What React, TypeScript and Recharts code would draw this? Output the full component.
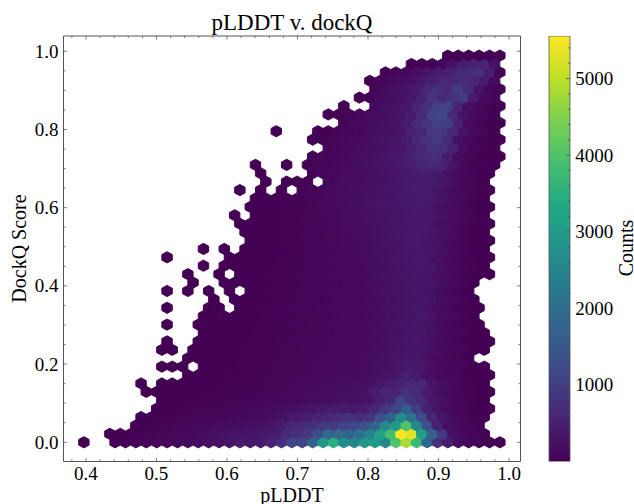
import React from 'react';
import {
  ScatterChart,
  Scatter,
  BarChart,
  Bar,
  XAxis,
  YAxis,
} from 'recharts';

// each row of the hexbin: first column index, then the counts from there on (0 = no hexagon)
const row00 = [0, 2, 0, 0, 30, 40, 60, 70, 90, 110, 130, 170, 190, 220, 260, 300, 420, 360, 380, 520, 750, 1150, 1150, 1700, 2900, 3500, 2700, 2500, 2900, 3000, 2550, 4000, 4850, 3750, 1800, 800, 450, 200, 90, 50, 20, 5];
const row01 = [2, 10, 20, 30, 40, 55, 75, 90, 110, 130, 170, 220, 260, 280, 300, 320, 380, 450, 650, 800, 900, 1300, 1850, 1900, 1800, 2050, 2500, 3200, 3900, 5555, 5300, 3100, 1700, 900, 250, 110, 60, 20];
const row02 = [5, 20, 30, 40, 50, 70, 80, 100, 130, 160, 170, 200, 220, 250, 320, 420, 580, 680, 760, 900, 950, 1100, 1200, 1350, 1800, 2600, 3000, 4000, 2600, 1450, 500, 250, 120, 50, 15];
const row03 = [5, 8, 15, 25, 35, 45, 50, 60, 80, 90, 110, 130, 150, 180, 230, 300, 380, 480, 560, 600, 720, 800, 760, 850, 1300, 1750, 2700, 2100, 1300, 600, 320, 170, 90, 40, 10];
const row04 = [7, 15, 20, 30, 35, 45, 50, 60, 70, 85, 100, 130, 150, 190, 240, 270, 300, 380, 400, 420, 380, 450, 620, 850, 1100, 1650, 1000, 500, 280, 160, 80, 40, 15, 5];
const row05 = [7, 8, 12, 18, 25, 30, 35, 40, 50, 55, 65, 80, 100, 120, 150, 170, 190, 210, 230, 250, 270, 300, 480, 620, 1100, 800, 650, 350, 230, 130, 70, 30, 8];
const row06 = [6, 5, 6, 10, 15, 18, 22, 28, 32, 38, 42, 50, 60, 75, 90, 110, 130, 150, 170, 190, 210, 230, 260, 430, 550, 560, 800, 650, 400, 220, 120, 60, 30, 10, 3];
const row07 = [5, 2, 0, 6, 8, 12, 15, 18, 22, 26, 30, 35, 40, 48, 60, 75, 90, 110, 125, 140, 160, 180, 200, 240, 340, 430, 540, 650, 600, 320, 190, 110, 55, 25, 8];
const row08 = [10, 10, 14, 18, 22, 26, 30, 35, 42, 52, 65, 80, 95, 110, 125, 140, 150, 150, 175, 220, 280, 360, 480, 400, 240, 150, 100, 50, 22, 8, 2];
const row09 = [7, 1, 2, 3, 0, 10, 14, 18, 22, 26, 30, 38, 46, 58, 72, 85, 100, 115, 130, 150, 140, 165, 205, 260, 340, 410, 360, 230, 140, 95, 45, 20, 6];
const row10 = [10, 8, 12, 15, 18, 22, 26, 30, 35, 42, 52, 65, 78, 90, 105, 120, 125, 130, 155, 190, 235, 300, 370, 340, 235, 135, 90, 45, 15];
const row11 = [7, 1, 2, 0, 6, 9, 12, 16, 20, 24, 28, 32, 40, 50, 60, 72, 85, 100, 115, 125, 125, 150, 180, 220, 275, 340, 330, 245, 135, 90, 45, 18, 5];
const row12 = [8, 1, 0, 0, 7, 10, 14, 18, 22, 26, 30, 36, 46, 56, 68, 80, 95, 110, 120, 120, 145, 175, 210, 260, 315, 330, 250, 140, 95, 48, 20, 8, 2];
const row13 = [11, 6, 9, 12, 16, 20, 24, 28, 34, 42, 52, 64, 76, 90, 105, 115, 115, 140, 170, 205, 250, 305, 335, 260, 150, 100, 50, 22, 6];
const row14 = [8, 1, 0, 0, 5, 8, 11, 15, 18, 22, 27, 32, 40, 50, 60, 72, 86, 100, 115, 115, 135, 170, 205, 250, 315, 345, 275, 155, 110, 55, 24, 7];
const row15 = [11, 4, 7, 10, 14, 17, 21, 25, 30, 38, 48, 58, 70, 84, 100, 115, 115, 135, 170, 205, 240, 300, 360, 290, 165, 115, 55, 20];
const row16 = [8, 1, 0, 0, 0, 6, 9, 0, 16, 20, 24, 29, 36, 46, 56, 68, 82, 98, 115, 115, 140, 170, 205, 250, 290, 345, 305, 170, 120, 60, 25, 6];
const row17 = [12, 2, 0, 10, 15, 19, 23, 28, 35, 44, 54, 66, 80, 98, 115, 115, 140, 175, 210, 250, 280, 330, 300, 180, 125, 62, 15];
const row18 = [8, 2, 0, 1, 0, 3, 0, 6, 0, 18, 22, 27, 34, 42, 52, 64, 78, 96, 115, 115, 145, 180, 215, 250, 290, 330, 305, 185, 130, 64, 12];
const row19 = [10, 1, 0, 0, 3, 8, 14, 17, 21, 26, 33, 41, 50, 62, 78, 96, 118, 120, 150, 185, 220, 260, 310, 335, 310, 195, 135, 66, 18];
const row20 = [10, 2, 0, 0, 2, 0, 12, 16, 20, 25, 32, 40, 50, 62, 78, 98, 120, 125, 150, 185, 220, 265, 320, 345, 320, 200, 140, 70, 30, 10, 2];
const row21 = [11, 1, 0, 2, 5, 10, 15, 19, 24, 30, 38, 48, 60, 78, 100, 125, 130, 155, 190, 230, 275, 330, 350, 330, 210, 145, 72, 30, 8];
const row22 = [8, 1, 0, 0, 0, 0, 0, 4, 9, 14, 18, 23, 29, 36, 46, 60, 80, 105, 130, 130, 165, 195, 235, 280, 335, 360, 335, 220, 150, 75, 32, 12, 2];
const row23 = [11, 2, 0, 1, 0, 8, 13, 17, 22, 28, 36, 46, 60, 82, 110, 135, 140, 170, 200, 250, 295, 345, 365, 345, 225, 155, 80, 34, 8];
const row24 = [16, 12, 16, 21, 27, 35, 46, 62, 85, 115, 145, 150, 180, 210, 250, 305, 345, 375, 335, 225, 160, 85, 36, 14, 3];
const row25 = [15, 4, 10, 15, 20, 26, 34, 46, 64, 90, 120, 150, 155, 185, 225, 265, 310, 350, 365, 335, 235, 165, 85, 36, 9];
const row26 = [15, 3, 9, 14, 19, 25, 34, 48, 68, 95, 125, 160, 165, 200, 240, 275, 310, 345, 365, 350, 240, 170, 90, 38, 15, 3];
const row27 = [14, 2, 0, 7, 13, 18, 24, 34, 50, 72, 100, 130, 165, 170, 210, 255, 290, 320, 345, 380, 365, 250, 175, 90, 40, 10];
const row28 = [16, 5, 11, 17, 24, 34, 52, 75, 105, 140, 175, 180, 220, 265, 295, 330, 360, 390, 375, 255, 180, 95, 42, 16, 3];
const row29 = [16, 3, 9, 15, 22, 34, 54, 80, 110, 150, 180, 185, 220, 255, 295, 335, 375, 400, 380, 270, 190, 95, 42, 12];
const row30 = [15, 1, 0, 5, 0, 18, 0, 52, 80, 110, 150, 175, 180, 210, 250, 290, 335, 380, 415, 400, 295, 200, 100, 46, 18, 4];
const row31 = [17, 3, 0, 10, 14, 40, 0, 105, 140, 165, 170, 205, 240, 280, 330, 375, 415, 415, 310, 220, 105, 48, 12];
const row32 = [17, 2, 0, 0, 0, 0, 65, 95, 130, 155, 160, 190, 230, 270, 320, 370, 420, 460, 410, 260, 120, 55, 22, 5];
const row33 = [16, 1, 0, 0, 1, 0, 14, 45, 85, 115, 150, 185, 225, 270, 320, 380, 450, 550, 620, 540, 300, 140, 60, 25, 5];
const row34 = [22, 30, 70, 100, 135, 170, 205, 250, 300, 360, 450, 580, 660, 720, 440, 180, 75, 30, 12, 3];
const row35 = [23, 55, 85, 120, 155, 190, 230, 280, 340, 460, 600, 800, 780, 500, 210, 85, 35, 8];
const row36 = [22, 8, 40, 75, 105, 140, 175, 215, 265, 320, 420, 600, 780, 900, 660, 260, 100, 40, 15, 3];
const row37 = [18, 1, 0, 0, 0, 6, 30, 65, 95, 130, 165, 205, 250, 320, 480, 620, 900, 880, 620, 320, 120, 45, 10];
const row38 = [25, 80, 115, 150, 195, 240, 300, 430, 640, 880, 1050, 1000, 520, 150, 60, 22, 4];
const row39 = [23, 2, 6, 60, 95, 135, 185, 235, 300, 420, 650, 1100, 1150, 600, 300, 130, 60, 10];
const row40 = [25, 4, 0, 0, 150, 210, 280, 370, 560, 750, 1000, 1100, 560, 220, 90, 35, 6];
const row41 = [26, 2, 40, 130, 190, 250, 340, 500, 820, 650, 750, 950, 400, 160, 45];
const row42 = [28, 100, 160, 220, 300, 430, 620, 800, 650, 1000, 680, 300, 100, 12];
const row43 = [27, 12, 70, 120, 180, 260, 360, 480, 620, 620, 680, 600, 420, 140];
const row44 = [29, 15, 80, 130, 210, 320, 420, 480, 620, 700, 740, 450, 40];
const row45 = [31, 6, 20, 40, 120, 300, 460, 540, 540, 260];
const row46 = [35, 3, 8, 15, 20, 22, 15];

const rows = [
  row00, row01, row02, row03, row04, row05, row06, row07, row08, row09,
  row10, row11, row12, row13, row14, row15, row16, row17, row18, row19,
  row20, row21, row22, row23, row24, row25, row26, row27, row28, row29,
  row30, row31, row32, row33, row34, row35, row36, row37, row38, row39,
  row40, row41, row42, row43, row44, row45, row46,
];

const xTicks = [0.4, 0.5, 0.6, 0.7, 0.8, 0.9, 1.0];
const yTicks = [0.0, 0.2, 0.4, 0.6, 0.8, 1.0];
const countTicks = [1000, 2000, 3000, 4000, 5000];
const xMinorTicks = [0.38, 0.42, 0.44, 0.46, 0.48, 0.52, 0.54, 0.56, 0.58, 0.62, 0.64, 0.66, 0.68, 0.72, 0.74, 0.76, 0.78, 0.82, 0.84, 0.86, 0.88, 0.92, 0.94, 0.96, 0.98];
const yMinorTicks = [0.05, 0.1, 0.15, 0.25, 0.3, 0.35, 0.45, 0.5, 0.55, 0.65, 0.7, 0.75, 0.85, 0.9, 0.95];
const countMinorTicks = [200, 400, 600, 800, 1200, 1400, 1600, 1800, 2200, 2400, 2600, 2800, 3200, 3400, 3600, 3800, 4200, 4400, 4600, 4800, 5200, 5400];

const viridis = ['#440154', '#482475', '#414487', '#355f8d', '#2a788e', '#21918c', '#22a884', '#44bf70', '#7ad151', '#bddf26', '#fde725'];

const COUNT_MAX = 5555;
const FONT = '"Liberation Serif", "Times New Roman", serif';
const FRAME = '#555555';

// hexbin lattice in data units
const X0 = 0.397;
const BIN_X = 0.01475;
const BIN_Y = 0.0215;

// axes take 1px each, so the plot box lands on 63.5..520.5 x 36..461.5
const PLOT = { left: 62.5, right: 112.5, top: 35, bottom: 41.5 };
const HEX_W = 10.4;
const HEX_TIP = 5.6;
const HEX_SHOULDER = 2.8;

function hexColor(count: number) {
  const t = (Math.min(count, COUNT_MAX) / COUNT_MAX) * (viridis.length - 1);
  const a = Math.floor(t);
  const b = Math.min(a + 1, viridis.length - 1);
  const mix = (s: number) => {
    const ca = parseInt(viridis[a].slice(s, s + 2), 16);
    const cb = parseInt(viridis[b].slice(s, s + 2), 16);
    return Math.round(ca + (cb - ca) * (t - a));
  };
  return `rgb(${mix(1)},${mix(3)},${mix(5)})`;
}

const hexData = rows.flatMap((row, j) =>
  row.slice(1).map((count, k) => ({
    x: X0 + (row[0] + k + (j % 2 ? 0.5 : 0)) * BIN_X,
    y: j * BIN_Y,
    count,
  })).filter(d => d.count > 0),
);

function Hexagon(props: any) {
  const { cx, cy, payload } = props;
  const w = HEX_W / 2;
  const points = [
    [cx + w, cy - HEX_SHOULDER],
    [cx + w, cy + HEX_SHOULDER],
    [cx, cy + HEX_TIP],
    [cx - w, cy + HEX_SHOULDER],
    [cx - w, cy - HEX_SHOULDER],
    [cx, cy - HEX_TIP],
  ].map(p => p.join(',')).join(' ');
  const color = hexColor(payload.count);
  return <polygon points={points} fill={color} stroke={color} strokeWidth={1} />;
}

const isMajor = (list: number[], v: number) => list.includes(v);
const textStyle = { fontFamily: FONT, fontSize: 19, fill: '#000' };

function xTick(side: 'bottom' | 'top') {
  return (props: any) => {
    const { x, y, payload } = props;
    const major = isMajor(xTicks, payload.value);
    const len = major ? 3.5 : 2;
    return (
      <g>
        <line x1={x} x2={x} y1={y} y2={side === 'bottom' ? y - len : y + len} stroke={FRAME} strokeWidth={0.8} />
        {side === 'bottom' && major && (
          <text x={x} y={y + 18.5} textAnchor="middle" style={textStyle}>{payload.value.toFixed(1)}</text>
        )}
      </g>
    );
  };
}

function yTick(side: 'left' | 'right') {
  return (props: any) => {
    const { x, y, payload } = props;
    const major = isMajor(yTicks, payload.value);
    const len = major ? 3.5 : 2;
    return (
      <g>
        <line x1={x} x2={side === 'left' ? x + len : x - len} y1={y} y2={y} stroke={FRAME} strokeWidth={0.8} />
        {side === 'left' && major && (
          <text x={x - 5} y={y + 6.5} textAnchor="end" style={textStyle}>{payload.value.toFixed(1)}</text>
        )}
      </g>
    );
  };
}

function countTick(props: any) {
  const { x, y, payload } = props;
  const major = isMajor(countTicks, payload.value);
  return (
    <g>
      <line x1={x} x2={x - (major ? 4.5 : 2.3)} y1={y} y2={y} stroke={FRAME} strokeWidth={0.8} />
      {major && <text x={x + 5} y={y + 6.5} style={textStyle}>{payload.value}</text>}
    </g>
  );
}

const allX = [...xTicks, ...xMinorTicks].sort((a, b) => a - b);
const allY = [...yTicks, ...yMinorTicks].sort((a, b) => a - b);
const allCounts = [...countTicks, ...countMinorTicks].sort((a, b) => a - b);
const xDomain = [0.3681, 1.0163];
const yDomain = [-0.0491, 1.0391];
const axisLine = { stroke: FRAME, strokeWidth: 1 };

export default function App() {
  return (
    <div style={{ position: 'fixed', left: 0, top: 0, width: 634, height: 504, overflow: 'hidden', background: '#fff' }}>
      <div style={{ position: 'absolute', left: 0, top: 0 }}>
        <ScatterChart width={634} height={504} margin={PLOT}>
          <XAxis xAxisId="bottom" type="number" dataKey="x" domain={xDomain} ticks={allX} interval={0} allowDataOverflow height={1} tickSize={0} tickMargin={0} tickLine={false} axisLine={axisLine} tick={xTick('bottom')} />
          <XAxis xAxisId="top" orientation="top" type="number" dataKey="x" domain={xDomain} ticks={allX} interval={0} allowDataOverflow height={1} tickSize={0} tickMargin={0} tickLine={false} axisLine={axisLine} tick={xTick('top')} />
          <YAxis yAxisId="left" type="number" dataKey="y" domain={yDomain} ticks={allY} interval={0} allowDataOverflow width={1} tickSize={0} tickMargin={0} tickLine={false} axisLine={axisLine} tick={yTick('left')} />
          <YAxis yAxisId="right" orientation="right" type="number" dataKey="y" domain={yDomain} ticks={allY} interval={0} allowDataOverflow width={1} tickSize={0} tickMargin={0} tickLine={false} axisLine={axisLine} tick={yTick('right')} />
          <Scatter xAxisId="bottom" yAxisId="left" data={hexData} shape={Hexagon} isAnimationActive={false} />
          <text x={292} y={30} textAnchor="middle" style={{ fontFamily: FONT, fontSize: 23, fill: '#000' }}>pLDDT v. dockQ</text>
          <text x={292} y={502} textAnchor="middle" style={{ fontFamily: FONT, fontSize: 20, fill: '#000' }}>pLDDT</text>
          <text transform="translate(26 248.5) rotate(-90)" textAnchor="middle" style={{ fontFamily: FONT, fontSize: 20, fill: '#000' }}>DockQ Score</text>
        </ScatterChart>
      </div>
      <div style={{ position: 'absolute', left: 0, top: 0 }}>
        <BarChart width={634} height={504} margin={{ left: 549, right: 62.7, top: 36, bottom: 42.5 }} data={[{ name: 'Counts', counts: COUNT_MAX }]} barCategoryGap={0}>
          <defs>
            <linearGradient id="viridisBar" x1="0" y1="1" x2="0" y2="0">
              {viridis.map((c, i) => (
                <stop key={c} offset={`${(i / (viridis.length - 1)) * 100}%`} stopColor={c} />
              ))}
            </linearGradient>
          </defs>
          <XAxis dataKey="name" hide />
          <YAxis orientation="right" type="number" domain={[1, COUNT_MAX]} ticks={allCounts} interval={0} allowDataOverflow width={1} tickSize={0} tickMargin={0} tickLine={false} axisLine={false} tick={countTick} />
          <Bar dataKey="counts" fill="url(#viridisBar)" stroke={FRAME} strokeWidth={0.8} isAnimationActive={false} />
          <text transform="translate(632.5 248) rotate(-90)" textAnchor="middle" style={{ fontFamily: FONT, fontSize: 20, fill: '#000' }}>Counts</text>
        </BarChart>
      </div>
    </div>
  );
}
